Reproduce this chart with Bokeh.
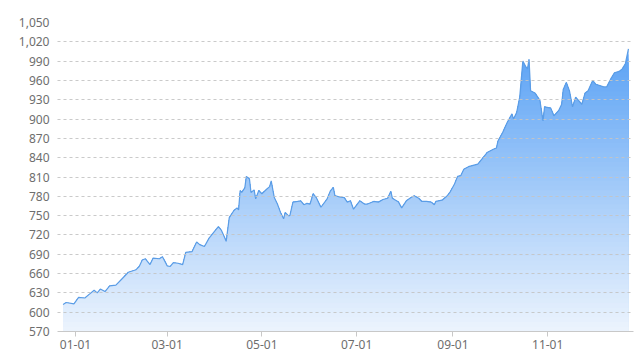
import numpy as np
import pandas as pd
from bokeh.plotting import figure
from bokeh.models import Range1d, FixedTicker, DatetimeTickFormatter, NumeralTickFormatter
from bokeh.embed import file_html
from bokeh.resources import INLINE

# ---- data ----
dates = [
    "2018-12-24", "2018-12-26", "2018-12-31", "2019-01-03", "2019-01-07", "2019-01-10",
    "2019-01-13", "2019-01-15", "2019-01-17", "2019-01-20", "2019-01-23", "2019-01-27",
    "2019-01-31", "2019-02-04", "2019-02-09", "2019-02-11", "2019-02-13", "2019-02-15",
    "2019-02-18", "2019-02-20", "2019-02-24", "2019-02-26", "2019-02-28", "2019-03-01",
    "2019-03-03", "2019-03-05", "2019-03-08", "2019-03-11", "2019-03-13", "2019-03-17",
    "2019-03-20", "2019-03-22", "2019-03-25", "2019-03-28", "2019-04-01", "2019-04-03",
    "2019-04-05", "2019-04-07", "2019-04-08", "2019-04-10", "2019-04-13", "2019-04-15",
    "2019-04-16", "2019-04-17", "2019-04-18", "2019-04-20", "2019-04-21", "2019-04-23",
    "2019-04-24", "2019-04-26", "2019-04-27", "2019-04-29", "2019-05-01", "2019-05-04",
    "2019-05-06", "2019-05-07", "2019-05-09", "2019-05-11", "2019-05-13", "2019-05-15",
    "2019-05-16", "2019-05-18", "2019-05-19", "2019-05-21", "2019-05-24", "2019-05-26",
    "2019-05-28", "2019-05-30", "2019-06-01", "2019-06-03", "2019-06-05", "2019-06-08",
    "2019-06-12", "2019-06-14", "2019-06-16", "2019-06-17", "2019-06-20", "2019-06-23",
    "2019-06-25", "2019-06-27", "2019-06-29", "2019-07-03", "2019-07-06", "2019-07-08",
    "2019-07-12", "2019-07-15", "2019-07-18", "2019-07-21", "2019-07-23", "2019-07-24",
    "2019-07-28", "2019-07-30", "2019-08-02", "2019-08-05", "2019-08-07", "2019-08-10",
    "2019-08-12", "2019-08-15", "2019-08-18", "2019-08-20", "2019-08-21", "2019-08-25",
    "2019-08-28", "2019-08-30", "2019-09-02", "2019-09-04", "2019-09-06", "2019-09-08",
    "2019-09-11", "2019-09-14", "2019-09-17", "2019-09-23", "2019-09-27", "2019-09-29",
    "2019-09-30", "2019-10-03", "2019-10-06", "2019-10-09", "2019-10-10", "2019-10-12",
    "2019-10-14", "2019-10-16", "2019-10-18", "2019-10-19", "2019-10-20", "2019-10-21",
    "2019-10-24", "2019-10-27", "2019-10-29", "2019-10-30", "2019-11-03", "2019-11-05",
    "2019-11-08", "2019-11-10", "2019-11-11", "2019-11-13", "2019-11-15", "2019-11-17",
    "2019-11-19", "2019-11-23", "2019-11-25", "2019-11-27", "2019-11-30", "2019-12-02",
    "2019-12-07", "2019-12-09", "2019-12-12", "2019-12-14", "2019-12-17", "2019-12-19",
    "2019-12-21", "2019-12-23",
]
values = [
    612, 615, 613, 623, 622, 628,
    634, 630, 636, 632, 641, 642,
    652, 662, 666, 671, 681, 683,
    674, 684, 683, 686, 677, 672,
    671, 677, 676, 674, 693, 694,
    709, 705, 702, 715, 727, 733,
    727, 716, 710, 747, 758, 762,
    759, 789, 786, 793, 811, 807,
    786, 790, 776, 789, 784, 791,
    795, 804, 778, 768, 755, 745,
    755, 750, 750, 771, 772, 773,
    767, 769, 768, 784, 778, 763,
    776, 788, 794, 781, 779, 778,
    771, 773, 760, 773, 768, 768,
    772, 771, 775, 777, 788, 777,
    771, 762, 773, 778, 781, 777,
    772, 772, 771, 767, 772, 774,
    780, 786, 799, 811, 812, 822,
    826, 828, 830, 848, 853, 855,
    866, 879, 895, 908, 900, 910,
    934, 990, 981, 978, 993, 944,
    940, 929, 897, 919, 917, 905,
    913, 923, 946, 957, 944, 919,
    934, 923, 940, 944, 960, 954,
    950, 950, 964, 972, 974, 978,
    986, 1009,
]
tick_dates = ["2019-01-01", "2019-03-01", "2019-05-01", "2019-07-01", "2019-09-01", "2019-11-01"]
y_ticks = list(range(570, 1051, 30))

x = pd.to_datetime(pd.Series(dates))
v = np.array(values, dtype=float)

p = figure(width=640, height=356, x_axis_type="datetime",
           output_backend="svg", toolbar_location=None,
           x_range=Range1d(pd.Timestamp("2018-12-20 10:00"), pd.Timestamp("2019-12-26 06:00")),
           y_range=Range1d(570, 1050),
           min_border_left=57, min_border_right=7, min_border_top=22, min_border_bottom=25)
p.outline_line_color = None
p.background_fill_color = "white"

# vertical gradient fill built from stacked layers
base = y_ticks[0]
top = v.max()
n = 60
levels = np.linspace(base, top, n + 1)[1:]
c_bot = np.array([238, 245, 254])
c_top = np.array([92, 163, 245])
for k in range(n - 1, -1, -1):
    frac = (levels[k] - base) / (top - base)
    c = (c_bot + (c_top - c_bot) * frac).astype(int)
    color = "#%02x%02x%02x" % tuple(c)
    p.varea(x=x, y1=base, y2=np.minimum(v, levels[k]), fill_color=color, fill_alpha=1.0)

p.line(x=x, y=v, line_color="#5b9de6", line_width=1.2)

# axes styling
p.xgrid.visible = False
p.ygrid.ticker = FixedTicker(ticks=y_ticks)
p.ygrid.grid_line_color = "#c4c4c4"
p.ygrid.grid_line_dash = "3 3"
p.ygrid.grid_line_alpha = 0.9
p.ygrid.level = "overlay"

p.yaxis.ticker = FixedTicker(ticks=y_ticks)
p.yaxis.formatter = NumeralTickFormatter(format="0,0")
p.yaxis.axis_line_color = None
p.yaxis.major_tick_line_color = None
p.yaxis.minor_tick_line_color = None
p.yaxis.major_tick_out = 0
p.yaxis.major_label_standoff = 8
p.yaxis.major_label_text_font = "Noto Sans"
p.yaxis.major_label_text_font_size = "12px"
p.yaxis.major_label_text_color = "#6e6e6e"

tick_ms = [pd.Timestamp(t).value // 10**6 for t in tick_dates]
p.xaxis.ticker = FixedTicker(ticks=tick_ms)
p.xaxis.formatter = DatetimeTickFormatter(days="%m-%d", months="%m-%d", years="%m-%d")
p.xaxis.axis_line_color = "#c8c8c8"
p.xaxis.major_tick_line_color = "#c8c8c8"
p.xaxis.minor_tick_line_color = None
p.xaxis.major_tick_out = 5
p.xaxis.major_tick_in = 0
p.xaxis.major_label_standoff = 3
p.xaxis.major_label_text_font = "Noto Sans"
p.xaxis.major_label_text_font_size = "12px"
p.xaxis.major_label_text_color = "#6e6e6e"

open("out.html", "w").write(file_html(p, INLINE))
